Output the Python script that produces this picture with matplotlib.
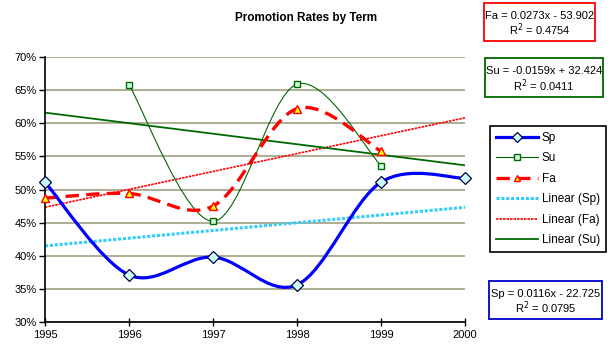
import matplotlib
matplotlib.use("Agg")
import matplotlib.pyplot as plt
import numpy as np
from matplotlib.path import Path
from matplotlib.patches import PathPatch, Rectangle
from matplotlib.lines import Line2D
from matplotlib.ticker import FuncFormatter

plt.rcParams['font.family'] = ['Liberation Sans', 'DejaVu Sans']

# ---- data (percent) ----
years_sp = [1995, 1996, 1997, 1998, 1999, 2000]
sp = [51.1, 37.1, 39.8, 35.6, 51.1, 51.7]
years_su = [1996, 1997, 1998, 1999]
su = [65.8, 45.2, 65.9, 53.6]
years_fa = [1995, 1996, 1997, 1998, 1999]
fa = [48.7, 49.4, 47.5, 62.2, 55.8]

title = "Promotion Rates by Term"
eq_fa = ["Fa = 0.0273x - 53.902", "R$^2$ = 0.4754"]
eq_su = ["Su = -0.0159x + 32.424", "R$^2$ = 0.0411"]
eq_sp = ["Sp = 0.0116x - 22.725", "R$^2$ = 0.0795"]
x_ticks = [1995, 1996, 1997, 1998, 1999, 2000]
y_ticks = [30, 35, 40, 45, 50, 55, 60, 65, 70]

W, H = 612, 360
fig = plt.figure(figsize=(W / 100, H / 100), dpi=100)
ax = fig.add_axes([45 / W, 1 - 322 / H, (465 - 45) / W, (322 - 57) / H])


def smooth_path(xs, ys):
    """Excel-like smoothed line as cubic Bezier path through the data points."""
    pts = np.column_stack([xs, ys]).astype(float)
    n = len(pts)
    verts = [pts[0]]
    codes = [Path.MOVETO]
    for i in range(n - 1):
        p0 = pts[i - 1] if i > 0 else pts[i]
        p1 = pts[i]
        p2 = pts[i + 1]
        p3 = pts[i + 2] if i + 2 < n else pts[i + 1]
        c1 = p1 + (p2 - p0) / 6.0
        c2 = p2 - (p3 - p1) / 6.0
        verts += [c1, c2, p2]
        codes += [Path.CURVE4] * 3
    return Path(verts, codes)


# gridlines
ax.set_ylim(30, 70)
ax.set_xlim(1995, 2000)
ax.set_yticks(y_ticks)
ax.set_xticks(x_ticks)
ax.yaxis.grid(True, color='#a09f80', linewidth=1.2)
ax.set_axisbelow(True)
for s in ['top', 'right']:
    ax.spines[s].set_visible(False)
for s in ['left', 'bottom']:
    ax.spines[s].set_linewidth(1.2)
ax.yaxis.set_major_formatter(FuncFormatter(lambda v, p: f"{v:.0f}%"))
ax.tick_params(axis='y', direction='out', length=4, width=1, labelsize=8, pad=2)
ax.tick_params(axis='x', direction='inout', length=6, width=1, labelsize=8, pad=3)

# trendlines
xt = np.array([1995, 2000])
col_sp_lin = '#33ccff'
col_fa_lin = '#ff0000'
col_su_lin = '#006600'
for xs, ys, c, lw, ls in [
    (years_sp, sp, col_sp_lin, 2.2, (0, (1, 0.6))),
    (years_fa, fa, col_fa_lin, 1.2, (0, (1.5, 0.6))),
    (years_su, su, col_su_lin, 1.3, '-'),
]:
    m, b = np.polyfit(xs, ys, 1)
    ax.plot(xt, m * xt + b, color=c, lw=lw, linestyle=ls, zorder=2)

# smoothed series
ax.add_patch(PathPatch(smooth_path(years_su, su), fill=False, edgecolor='#006600', lw=0.8, zorder=3))
ax.add_patch(PathPatch(smooth_path(years_fa, fa), fill=False, edgecolor='#ff0000', lw=2.4,
                       linestyle=(0, (4, 2.2)), zorder=4))
ax.add_patch(PathPatch(smooth_path(years_sp, sp), fill=False, edgecolor='#0000ff', lw=2.3, zorder=5))

ax.plot(years_su, su, ls='none', marker='s', ms=4.5, mfc='#ccffdd', mec='#006600', mew=1, zorder=6, clip_on=False)
ax.plot(years_fa, fa, ls='none', marker='^', ms=5.5, mfc='#ffff00', mec='#ff0000', mew=1, zorder=6, clip_on=False)
ax.plot(years_sp, sp, ls='none', marker='D', ms=6, mfc='#ccffff', mec='#000040', mew=0.9, zorder=7, clip_on=False)

fig.text(306 / W, 1 - 18 / H, title, ha='center', va='center', fontsize=8.5, fontweight='bold')

# legend
handles = [
    Line2D([], [], color='#0000ff', lw=2.3, marker='D', ms=5.5, mfc='#ccffff', mec='#000040', mew=0.9),
    Line2D([], [], color='#006600', lw=0.8, marker='s', ms=4, mfc='#ccffdd', mec='#006600'),
    Line2D([], [], color='#ff0000', lw=2.4, linestyle=(0, (4, 2.2)), marker='^', ms=5, mfc='#ffff00', mec='#ff0000'),
    Line2D([], [], color=col_sp_lin, lw=2.2, linestyle=(0, (1, 0.6))),
    Line2D([], [], color=col_fa_lin, lw=1.2, linestyle=(0, (1.5, 0.6))),
    Line2D([], [], color=col_su_lin, lw=1.3),
]
labels = ['Sp', 'Su', 'Fa', 'Linear (Sp)', 'Linear (Fa)', 'Linear (Su)']
leg = fig.legend(handles, labels, loc='upper left', bbox_to_anchor=(490 / W, 1 - 126 / H),
                 fontsize=8.5, frameon=True, fancybox=False, edgecolor='black', framealpha=1,
                 handlelength=3.6, handletextpad=0.3, labelspacing=0.72, borderpad=0.5,
                 borderaxespad=0)
leg.get_frame().set_linewidth(1.2)


def eq_box(x0, y0, x1, y1, color, lines):
    fig.patches.append(Rectangle((x0 / W, 1 - y1 / H), (x1 - x0) / W, (y1 - y0) / H,
                                 transform=fig.transFigure, fill=True, facecolor='white',
                                 edgecolor=color, lw=1.3))
    cx = (x0 + x1) / 2 / W
    h = y1 - y0
    fig.text(cx, 1 - (y0 + h * 0.33) / H, lines[0], ha='center', va='center', fontsize=8)
    fig.text(cx, 1 - (y0 + h * 0.70) / H, lines[1], ha='center', va='center', fontsize=8)


eq_box(484, 3, 595, 41, '#ff0000', eq_fa)
eq_box(485, 58, 603, 97, '#006600', eq_su)
eq_box(489, 281, 602, 319, '#0000cc', eq_sp)

fig.savefig('out.png', dpi=100)
